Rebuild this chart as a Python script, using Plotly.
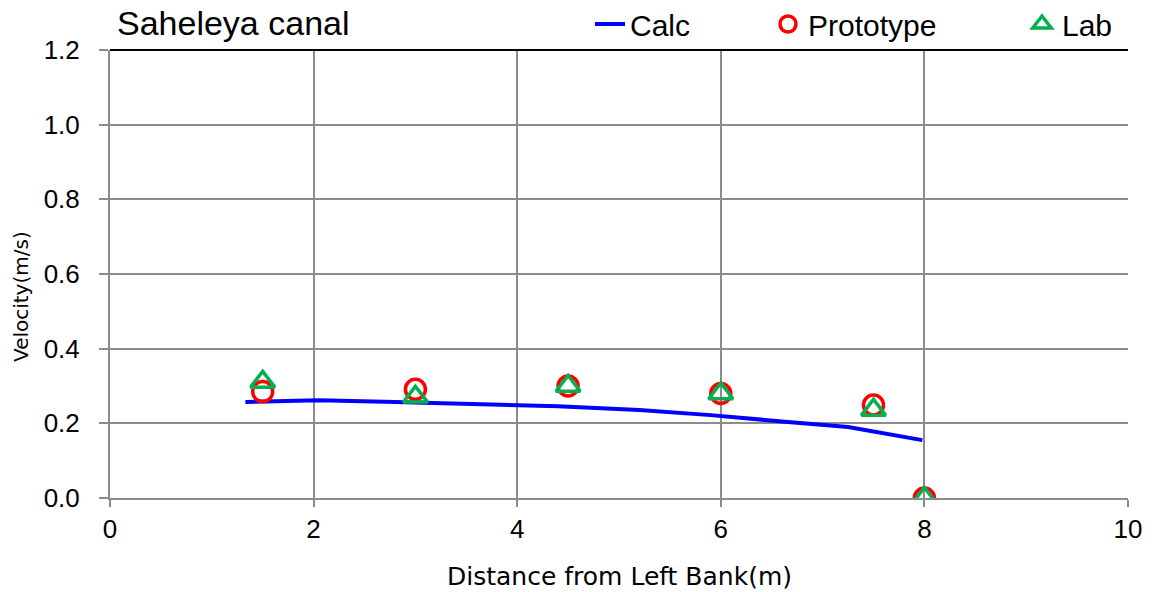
import plotly.graph_objects as go

# Calculated velocity profile
calc_x = [1.33, 2.05, 2.8, 3.6, 4.4, 5.2, 5.9, 6.6, 7.25, 7.98]
calc_v = [0.257, 0.262, 0.257, 0.252, 0.246, 0.236, 0.222, 0.205, 0.19, 0.155]

# Measured points
proto_x = [1.5, 3.0, 4.5, 6.0, 7.5, 8.0]
proto_v = [0.285, 0.291, 0.30, 0.28, 0.249, 0.0]

lab_x = [1.5, 3.0, 4.5, 6.0, 7.5, 8.0]
lab_v = [0.311, 0.271, 0.30, 0.28, 0.236, 0.0]

x_ticks = [0, 2, 4, 6, 8, 10]
y_ticks = [0.0, 0.2, 0.4, 0.6, 0.8, 1.0, 1.2]

W, H = 1156, 592
L, R, T, B = 110, 28, 50, 94
PW, PH = W - L - R, H - T - B

fig = go.Figure()
fig.add_trace(go.Scatter(
    x=calc_x, y=calc_v, mode="lines", name="Calc",
    line=dict(color="#0000FF", width=4), legend="legend",
))
fig.add_trace(go.Scatter(
    x=proto_x, y=proto_v, mode="markers", name="Prototype",
    marker=dict(symbol="circle-open", size=20, color="#FF0000",
                line=dict(color="#FF0000", width=3.5)),
    legend="legend2",
))
fig.add_trace(go.Scatter(
    x=lab_x, y=lab_v, mode="markers", name="Lab",
    marker=dict(symbol="triangle-up-open", size=21, color="#00B050",
                line=dict(color="#00B050", width=3.5)),
    legend="legend3",
))

tick_font = dict(family="Liberation Sans, Arial", size=26, color="#000000")
legend_font = dict(family="Liberation Sans, Arial", size=30, color="#000000")


def legend_at(xpx):
    return dict(
        x=xpx / W, xref="container", y=1 - 24 / H, yref="container",
        xanchor="left", yanchor="middle", orientation="h",
        font=legend_font, bgcolor="rgba(0,0,0,0)", borderwidth=0,
    )


fig.update_layout(
    width=W, height=H,
    margin=dict(l=L, r=R, t=T, b=B, autoexpand=False),
    paper_bgcolor="white", plot_bgcolor="white",
    showlegend=True,
    legend=legend_at(590),
    legend2=legend_at(768),
    legend3=legend_at(1022),
)

# Chart title
fig.add_annotation(
    text="Saheleya canal", xref="paper", yref="paper",
    x=(115 - L) / PW, y=1 + 27 / PH, xanchor="left", yanchor="middle",
    showarrow=False, font=dict(family="Liberation Sans, Arial", size=34, color="#000000"),
)
# Axis titles
fig.add_annotation(
    text="Distance from Left Bank(m)", xref="paper", yref="paper",
    x=0.5, y=-(576 - (T + PH)) / PH, xanchor="center", yanchor="middle",
    showarrow=False, font=dict(family="DejaVu Sans", size=25, color="#000000"),
)
fig.add_annotation(
    text="Velocity(m/s)", xref="paper", yref="paper", textangle=-90,
    x=-(L - 21) / PW, y=1 - (297 - T) / PH, xanchor="center", yanchor="middle",
    showarrow=False, font=dict(family="DejaVu Sans", size=20, color="#000000"),
)

fig.update_xaxes(
    range=[0, 10], tickvals=x_ticks, ticktext=[str(v) for v in x_ticks],
    showgrid=True, gridcolor="#8C8C8C", gridwidth=2,
    showline=True, linecolor="#8C8C8C", linewidth=2,
    ticks="outside", ticklen=7, tickcolor="#8C8C8C", tickwidth=2,
    tickfont=tick_font, zeroline=False,
)
fig.update_yaxes(
    range=[0, 1.2], tickvals=y_ticks, ticktext=[f"{v:.1f}" for v in y_ticks],
    showgrid=True, gridcolor="#8C8C8C", gridwidth=2,
    showline=True, linecolor="#8C8C8C", linewidth=2,
    ticks="outside", ticklen=9, tickcolor="#8C8C8C", tickwidth=2,
    tickfont=tick_font, zeroline=False, ticklabelstandoff=14,
)
# Dark top border of the plot area
fig.add_shape(type="line", xref="paper", yref="paper", x0=0, x1=1, y0=1, y1=1,
              line=dict(color="#000000", width=2))

fig.write_html("out.html")
